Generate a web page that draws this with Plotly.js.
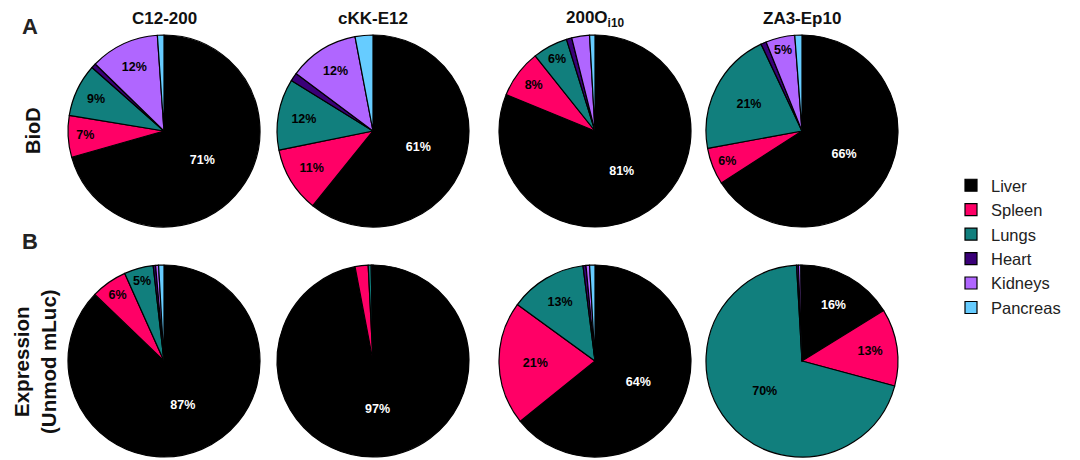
<!DOCTYPE html>
<html>
<head>
<meta charset="utf-8">
<script src="https://cdn.plot.ly/plotly-3.0.1.min.js"></script>
<style>html,body{margin:0;padding:0;background:#fff;}#chart{width:1080px;height:460px;}</style>
</head>
<body>
<div id="chart"></div>
<script>
// Organs (slice order, clockwise from 12 o'clock)
const organs = ["Liver", "Spleen", "Lungs", "Heart", "Kidneys", "Pancreas"];
const organColors = ["#000000", "#FF0066", "#117F7D", "#3A0078", "#B066FF", "#66CCFF"];

// Formulation names
const formulations = ["C12-200", "cKK-E12", "200O<sub>i10</sub>", "ZA3-Ep10"];

// A: biodistribution (% of signal)
const bioC12 = [70.6, 7.0, 8.9, 0.8, 11.6, 1.1];
const bioCKK = [60.8, 11.0, 12.0, 1.4, 11.8, 3.0];
const bio200 = [81.2, 8.1, 5.9, 0.9, 3.0, 0.9];
const bioZA3 = [65.9, 6.2, 20.9, 0.9, 4.9, 1.2];

// B: expression (Unmod mLuc, % of signal)
const expC12 = [87.2, 6.1, 4.9, 0.4, 0.5, 0.9];
const expCKK = [97.0, 2.2, 0.5, 0.1, 0.2, 0.0];
const exp200 = [64.2, 20.8, 13.0, 0.5, 0.6, 0.9];
const expZA3 = [16.2, 13.0, 69.9, 0.3, 0.4, 0.2];

const rowA = [bioC12, bioCKK, bio200, bioZA3];
const rowB = [expC12, expCKK, exp200, expZA3];

const W = 1080, H = 460;
const colCenters = [164, 373, 595, 802];
const rowCenters = [131, 361];
const R = 96;
const FONT = "Liberation Sans, Arial, sans-serif";

const textColors = organs.map((o, i) => i === 0 ? "#ffffff" : "#000000");

function pieTrace(vals, col, row, showLegend) {
  const cx = colCenters[col], cy = rowCenters[row];
  return {
    type: "pie",
    labels: organs,
    values: vals,
    sort: false,
    direction: "clockwise",
    rotation: 0,
    marker: { colors: organColors, line: { color: "#000000", width: 1.2 } },
    texttemplate: vals.map(v => v >= 4 ? "%{percent:.0%}" : ""),
    textposition: "inside",
    insidetextorientation: "horizontal",
    textfont: { family: FONT, size: 12.5, color: textColors, weight: "bold" },
    hoverinfo: "label+percent",
    showlegend: showLegend,
    domain: {
      x: [(cx - R) / W, (cx + R) / W],
      y: [1 - (cy + R) / H, 1 - (cy - R) / H]
    }
  };
}

const data = [];
rowA.forEach((v, i) => data.push(pieTrace(v, i, 0, i === 0)));
rowB.forEach((v, i) => data.push(pieTrace(v, i, 1, false)));

const titleFont = { family: FONT, size: 17, color: "#111" };
const annotations = formulations.map((f, i) => ({
  text: "<b>" + f + "</b>", x: colCenters[i] / W, y: 1 - 19 / H,
  xref: "paper", yref: "paper", xanchor: "center", yanchor: "middle",
  showarrow: false, font: titleFont
}));
annotations.push(
  { text: "<b>A</b>", x: 30 / W, y: 1 - 27 / H, xref: "paper", yref: "paper", xanchor: "center", yanchor: "middle", showarrow: false, font: { family: FONT, size: 22, color: "#222" } },
  { text: "<b>B</b>", x: 30 / W, y: 1 - 242 / H, xref: "paper", yref: "paper", xanchor: "center", yanchor: "middle", showarrow: false, font: { family: FONT, size: 22, color: "#222" } },
  { text: "<b>BioD</b>", x: 33 / W, y: 1 - 131 / H, xref: "paper", yref: "paper", xanchor: "center", yanchor: "middle", textangle: -90, showarrow: false, font: { family: FONT, size: 20, color: "#111" } },
  { text: "<b>Expression<br>(Unmod mLuc)</b>", x: 35 / W, y: 1 - 362 / H, xref: "paper", yref: "paper", xanchor: "center", yanchor: "middle", textangle: -90, showarrow: false, font: { family: FONT, size: 20.5, color: "#111" } }
);

const layout = {
  width: W, height: H,
  margin: { l: 0, r: 0, t: 0, b: 0 },
  paper_bgcolor: "#ffffff",
  showlegend: true,
  legend: {
    x: 951 / W, y: 1 - 168 / H, xanchor: "left", yanchor: "top",
    font: { family: FONT, size: 16.5, color: "#222" },
    tracegroupgap: 0, itemwidth: 30
  },
  annotations: annotations
};

Plotly.newPlot("chart", data, layout, { displayModeBar: false, staticPlot: true });
</script>
</body>
</html>
